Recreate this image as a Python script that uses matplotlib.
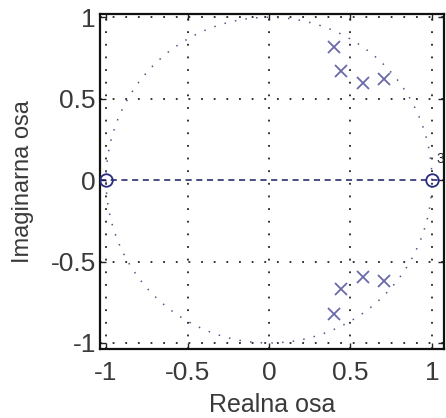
import numpy as np
import matplotlib
matplotlib.use("Agg")
import matplotlib.pyplot as plt

# Data
zeros_re = [-1.0, 1.0]
zeros_im = [0.0, 0.0]
poles_re = [0.40, 0.44, 0.575, 0.705, 0.40, 0.44, 0.575, 0.705]
poles_im = [0.82, 0.67, 0.595, 0.62, -0.82, -0.67, -0.595, -0.62]
xticks = [-1, -0.5, 0, 0.5, 1]
yticks = [-1, -0.5, 0, 0.5, 1]
xticklabels = ["-1", "-0.5", "0", "0.5", "1"]
yticklabels = ["-1", "-0.5", "0", "0.5", "1"]

plt.rcParams['font.family'] = ['Liberation Sans', 'DejaVu Sans']

fig = plt.figure(figsize=(4.46, 4.18), dpi=100)
ax = fig.add_axes([100/446, 69/418, 344/446, 335/418])
ax.set_xlim(-1.037, 1.074)
ax.set_ylim(-1.037, 1.020)

# grid
for v in xticks:
    ax.axvline(v, color='#222222', lw=1.3, ls=(0, (1, 6)), zorder=1)
for v in yticks:
    if v != 0:
        ax.axhline(v, color='#222222', lw=1.3, ls=(0, (1, 6)), zorder=1)

# unit circle
t = np.linspace(0, 2*np.pi, 400)
ax.plot(np.cos(t), np.sin(t), color='#55558a', lw=1.1, ls=(0, (1, 6)), zorder=2)

# real axis line
ax.axhline(0, color='#1a1a66', lw=1.1, ls=(0, (4, 3)), zorder=2)

# zeros and poles
ax.plot(zeros_re, zeros_im, ls='none', marker='o', ms=9, mfc='none',
        mec='#2a2a80', mew=1.3, zorder=4)
ax.plot(poles_re, poles_im, ls='none', marker='x', ms=9,
        mec='#6a6aaa', mew=1.3, zorder=4)

ax.text(1.072, 0.13, "3", fontsize=10, color='#222222', ha='right', va='center',
        clip_on=False)

ax.set_xticks(xticks)
ax.set_xticklabels(xticklabels)
ax.set_yticks(yticks)
ax.set_yticklabels(yticklabels)
ax.tick_params(direction='in', length=4, width=1, labelsize=19, colors='#222222',
               top=True, right=True)
ax.tick_params(axis='x', pad=9)
ax.tick_params(axis='y', pad=3)
for lbl in ax.get_xticklabels() + ax.get_yticklabels():
    lbl.set_color('#3a3a3a')
for s in ax.spines.values():
    s.set_linewidth(1.6)
    s.set_color('#111111')

ax.set_xlabel("Realna osa", fontsize=18, color='#3a3a3a', va='center')
ax.xaxis.set_label_coords(0.5, (13 - 69) / 335)
ax.set_ylabel("Imaginarna osa", fontsize=17, color='#3a3a3a', va='center')
ax.yaxis.set_label_coords((23 - 100) / 344, 0.5)

fig.savefig("out.png", dpi=100)
